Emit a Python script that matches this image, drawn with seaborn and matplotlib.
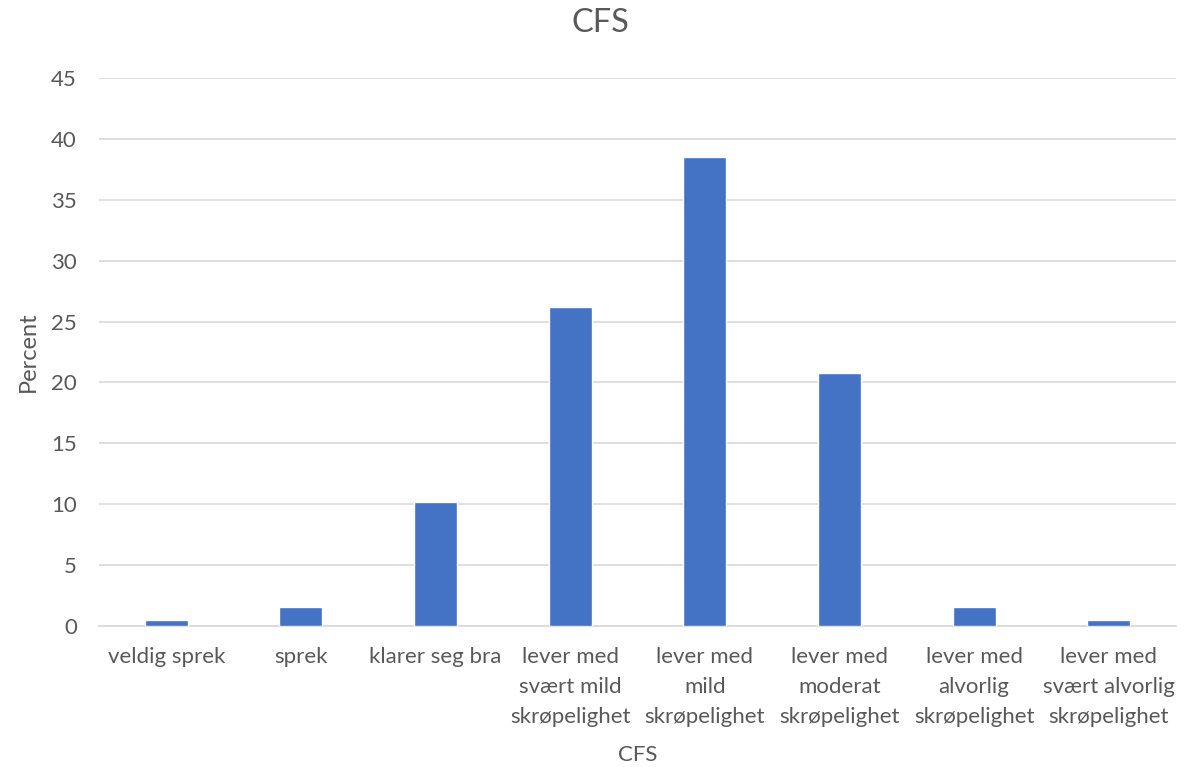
import matplotlib
matplotlib.use("Agg")
import matplotlib.pyplot as plt
import seaborn as sns
import pandas as pd

categories = [
    "veldig sprek",
    "sprek",
    "klarer seg bra",
    "lever med\nsvært mild\nskrøpelighet",
    "lever med\nmild\nskrøpelighet",
    "lever med\nmoderat\nskrøpelighet",
    "lever med\nalvorlig\nskrøpelighet",
    "lever med\nsvært alvorlig\nskrøpelighet",
]
percent = [0.5, 1.6, 10.2, 26.2, 38.5, 20.8, 1.6, 0.5]
y_ticks = [0, 5, 10, 15, 20, 25, 30, 35, 40, 45]

df = pd.DataFrame({"CFS": categories, "Percent": percent})

sns.set_theme(style="white")
plt.rcParams["font.family"] = ["Lato", "DejaVu Sans"]

text_color = "#595959"
grid_color = "#d9d9d9"

fig = plt.figure(figsize=(12.01, 7.67), dpi=100)
ax = fig.add_axes([99 / 1201, 1 - 626 / 767, (1176 - 99) / 1201, (626 - 78) / 767])

sns.barplot(data=df, x="CFS", y="Percent", color="#4472c4", width=0.32,
            saturation=1, ax=ax, zorder=3)

ax.set_ylim(0, 45)
ax.set_yticks(y_ticks)
ax.set_xlim(-0.5, len(categories) - 0.5)
ax.yaxis.grid(True, color=grid_color, linewidth=1.2, zorder=0)
ax.set_axisbelow(True)
for side in ["top", "right", "left"]:
    ax.spines[side].set_visible(False)
ax.spines["bottom"].set_color(grid_color)
ax.spines["bottom"].set_linewidth(1.2)
ax.tick_params(axis="both", length=0, labelsize=16, colors=text_color)
ax.tick_params(axis="y", pad=16)
ax.tick_params(axis="x", pad=15)
for lbl in ax.get_xticklabels():
    lbl.set_linespacing(1.62)

ax.set_xlabel("CFS", fontsize=16, color=text_color, labelpad=13)
ax.set_ylabel("Percent", fontsize=17, color=text_color, labelpad=9)
fig.suptitle("CFS", fontsize=23.5, color=text_color, y=0.99)

fig.savefig("out.png", dpi=100)
